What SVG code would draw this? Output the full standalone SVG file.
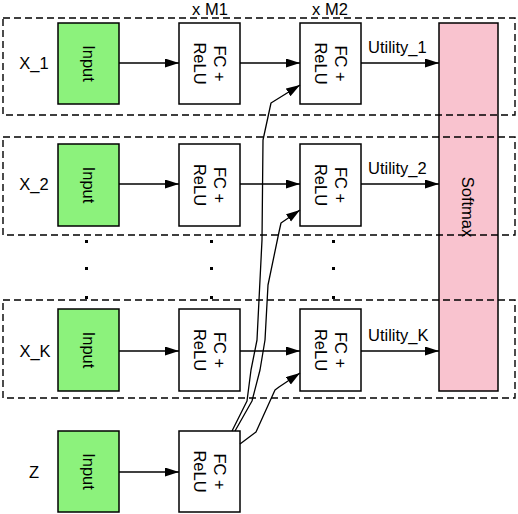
<svg xmlns="http://www.w3.org/2000/svg" width="518" height="514" viewBox="0 0 518 514">
<style>
text{font-family:"Liberation Sans",Arial,sans-serif;font-size:16.5px;fill:#000}
.in{fill:#8cf27c;stroke:#000;stroke-width:1.5}
.fc{fill:#fff;stroke:#000;stroke-width:1.5}
.sm{fill:#f9c3cf;stroke:#000;stroke-width:1.5}
.grp{fill:none;stroke:#000;stroke-width:1.4;stroke-dasharray:7 4}
.c{fill:none;stroke:#000;stroke-width:1.4;marker-end:url(#ah)}
.cv{fill:none;stroke:#000;stroke-width:1.3;stroke-linejoin:round;marker-end:url(#ah)}
.mid{text-anchor:middle;dominant-baseline:central}
.dot{fill:#000}
</style>
<defs>
<marker id="ah" markerUnits="userSpaceOnUse" markerWidth="15" markerHeight="10" refX="14" refY="4.5" orient="auto">
<path d="M0,0 L14,4.5 L0,9 Z" fill="#000"/>
</marker>
</defs>
<rect width="518" height="514" fill="#fff"/>

<g id="softmax">
<rect class="sm" x="439" y="23" width="59" height="368"/>
<text class="mid" transform="rotate(90 468 207)" x="468" y="207">Softmax</text>
</g>

<g id="groups">
<rect class="grp" x="3" y="18" width="512" height="97"/>
<rect class="grp" x="3" y="137" width="512" height="98"/>
<rect class="grp" x="3" y="300" width="512" height="98"/>
</g>

<g id="labels">
<text x="34" y="69" text-anchor="middle">X_1</text>
<text x="34" y="190" text-anchor="middle">X_2</text>
<text x="35" y="357" text-anchor="middle">X_K</text>
<text x="34" y="478" text-anchor="middle">Z</text>
<text x="210" y="15" text-anchor="middle">x M1</text>
<text x="330" y="15" text-anchor="middle">x M2</text>
<text x="368" y="53">Utility_1</text>
<text x="368" y="174">Utility_2</text>
<text x="368" y="341">Utility_K</text>
</g>

<g id="dots">
<rect class="dot" x="85" y="240" width="3" height="3"/>
<rect class="dot" x="85" y="267" width="3" height="3"/>
<rect class="dot" x="85" y="296" width="3" height="3"/>
<rect class="dot" x="210" y="240" width="3" height="3"/>
<rect class="dot" x="210" y="267" width="3" height="3"/>
<rect class="dot" x="210" y="296" width="3" height="3"/>
<rect class="dot" x="332" y="240" width="3" height="3"/>
<rect class="dot" x="332" y="267" width="3" height="3"/>
<rect class="dot" x="332" y="296" width="3" height="3"/>
</g>

<g id="input1"><rect class="in" x="58" y="23" width="61" height="81"/><text class="mid" transform="rotate(90 88.5 63.5)" x="88.5" y="63.5">Input</text></g>
<g id="input2"><rect class="in" x="58" y="144" width="61" height="82"/><text class="mid" transform="rotate(90 88.5 185)" x="88.5" y="185">Input</text></g>
<g id="inputK"><rect class="in" x="58" y="309" width="61" height="82"/><text class="mid" transform="rotate(90 88.5 350)" x="88.5" y="350">Input</text></g>
<g id="inputZ"><rect class="in" x="58" y="431" width="61" height="81"/><text class="mid" transform="rotate(90 88.5 471.5)" x="88.5" y="471.5">Input</text></g>

<g id="fc1_1"><rect class="fc" x="179" y="23" width="61" height="81"/><text class="mid" transform="rotate(90 209.5 63.5)"><tspan x="209.5" y="53.5">FC +</tspan><tspan x="209.5" y="73.5">ReLU</tspan></text></g>
<g id="fc2_1"><rect class="fc" x="300" y="23" width="61" height="81"/><text class="mid" transform="rotate(90 330.5 63.5)"><tspan x="330.5" y="53.5">FC +</tspan><tspan x="330.5" y="73.5">ReLU</tspan></text></g>
<g id="fc1_2"><rect class="fc" x="179" y="144" width="61" height="82"/><text class="mid" transform="rotate(90 209.5 185)"><tspan x="209.5" y="175">FC +</tspan><tspan x="209.5" y="195">ReLU</tspan></text></g>
<g id="fc2_2"><rect class="fc" x="300" y="144" width="61" height="82"/><text class="mid" transform="rotate(90 330.5 185)"><tspan x="330.5" y="175">FC +</tspan><tspan x="330.5" y="195">ReLU</tspan></text></g>
<g id="fc1_K"><rect class="fc" x="179" y="309" width="61" height="82"/><text class="mid" transform="rotate(90 209.5 350)"><tspan x="209.5" y="340">FC +</tspan><tspan x="209.5" y="360">ReLU</tspan></text></g>
<g id="fc2_K"><rect class="fc" x="300" y="309" width="61" height="82"/><text class="mid" transform="rotate(90 330.5 350)"><tspan x="330.5" y="340">FC +</tspan><tspan x="330.5" y="360">ReLU</tspan></text></g>
<g id="fc_Z"><rect class="fc" x="179" y="431" width="61" height="81"/><text class="mid" transform="rotate(90 209.5 471.5)"><tspan x="209.5" y="461.5">FC +</tspan><tspan x="209.5" y="481.5">ReLU</tspan></text></g>

<g id="connectors">
<line class="c" x1="119" y1="63" x2="179" y2="63"/>
<line class="c" x1="240" y1="63" x2="300" y2="63"/>
<line class="c" x1="361" y1="63" x2="439" y2="63"/>
<line class="c" x1="119" y1="184" x2="179" y2="184"/>
<line class="c" x1="240" y1="184" x2="300" y2="184"/>
<line class="c" x1="361" y1="184" x2="439" y2="184"/>
<line class="c" x1="119" y1="351" x2="179" y2="351"/>
<line class="c" x1="240" y1="351" x2="300" y2="351"/>
<line class="c" x1="361" y1="351" x2="439" y2="351"/>
<line class="c" x1="119" y1="472" x2="179" y2="472"/>
<path class="cv" d="M232,431 L247,401 L251,370 L257,340 L262,240 L263,140 L271,103 L300,85"/>
<path class="cv" d="M235,431 L252,401 L260,370 L265,340 L268,285 L279,232 L281,223 L300,210"/>
<path class="cv" d="M240,444 L256,432 L275,390 L279,387 L300,373"/>
</g>
</svg>
